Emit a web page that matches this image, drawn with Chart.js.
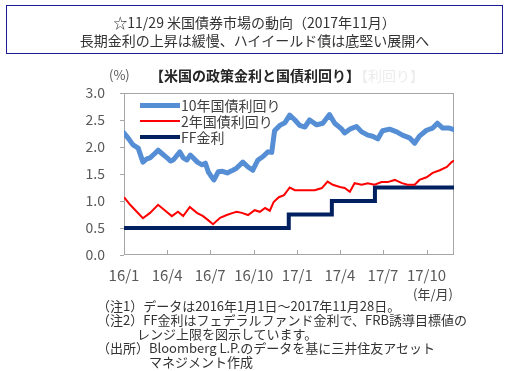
<!DOCTYPE html>
<html><head><meta charset="utf-8">
<script src="https://cdn.jsdelivr.net/npm/chart.js@4/dist/chart.umd.min.js"></script>
<style>
body{margin:0;background:#fff;font-family:"Noto Sans CJK JP","Noto Sans",sans-serif;}
#wrap{position:relative;width:507px;height:371px;overflow:hidden;background:#fff}
.t{position:absolute;white-space:nowrap;color:#333;font-size:14px;line-height:18px}
.sw{position:absolute}
</style></head>
<body><div id="wrap">
<canvas id="c" width="507" height="371" style="position:absolute;left:0;top:0"></canvas>
<div class="t" style="left:6px;top:5px;width:497px;height:49px;border:1.5px solid #1c1c94;box-sizing:border-box;text-align:center;padding-top:7px;color:#333">☆11/29 米国債券市場の動向（2017年11月）<br>長期金利の上昇は緩慢、ハイイールド債は底堅い展開へ</div>
<div class="t" style="left:109px;top:66px;color:#595959;font-size:13px">(%)</div>
<div class="t" style="left:150px;top:66px;font-weight:bold;color:#262626">【米国の政策金利と国債利回り】</div>
<div class="t" style="left:354px;top:66px;color:#ececec">【利回り】</div>
<div class="sw" style="left:140px;top:103px;width:40px;height:5px;background:#558ed5"></div>
<div class="t" style="left:181px;top:96px;color:#404040">10年国債利回り</div>
<div class="sw" style="left:140px;top:120px;width:40px;height:2px;background:#ff0000"></div>
<div class="t" style="left:181px;top:112px;color:#404040">2年国債利回り</div>
<div class="sw" style="left:140px;top:135px;width:40px;height:4px;background:#002060"></div>
<div class="t" style="left:181px;top:128px;color:#404040">FF金利</div>
<div class="t" style="left:413px;top:285px;color:#404040;font-size:13px">(年/月)</div>
<div class="t" style="left:97px;top:299px;font-size:13px;line-height:14px;color:#333">（注1）データは2016年1月1日～2017年11月28日。<br>（注2）FF金利はフェデラルファンド金利で、FRB誘導目標値の<br><span style="padding-left:40px">レンジ上限を図示しています。</span><br>（出所）Bloomberg L.P.のデータを基に三井住友アセット<br><span style="padding-left:52px">マネジメント作成</span></div>
</div>
<script>
// ---- data ----
const dates10y = ["2016-01-01","2016-01-11","2016-01-20","2016-01-31","2016-02-10","2016-02-18","2016-02-25","2016-03-06","2016-03-13","2016-03-21","2016-04-01","2016-04-08","2016-04-14","2016-04-28","2016-05-05","2016-05-13","2016-05-20","2016-05-26","2016-06-04","2016-06-14","2016-06-21","2016-06-27","2016-07-03","2016-07-09","2016-07-18","2016-07-27","2016-08-06","2016-08-13","2016-08-18","2016-08-26","2016-09-08","2016-09-19","2016-09-29","2016-10-10","2016-10-20","2016-10-31","2016-11-08","2016-11-14","2016-11-25","2016-12-06","2016-12-16","2016-12-27","2017-01-06","2017-01-17","2017-01-27","2017-02-11","2017-02-24","2017-03-10","2017-03-21","2017-04-05","2017-04-11","2017-04-22","2017-05-06","2017-05-17","2017-05-30","2017-06-09","2017-06-20","2017-06-30","2017-07-15","2017-07-30","2017-08-11","2017-08-26","2017-09-06","2017-09-16","2017-10-01","2017-10-14","2017-10-24","2017-11-04","2017-11-18","2017-11-28"];
const yield10y = [2.26,2.15,2.04,1.98,1.72,1.78,1.80,1.88,1.94,1.88,1.80,1.74,1.76,1.91,1.80,1.76,1.85,1.80,1.72,1.67,1.70,1.54,1.46,1.39,1.54,1.55,1.52,1.55,1.57,1.61,1.72,1.63,1.57,1.76,1.82,1.91,1.90,2.30,2.40,2.45,2.59,2.50,2.40,2.37,2.50,2.41,2.44,2.60,2.44,2.33,2.26,2.33,2.38,2.28,2.22,2.20,2.15,2.30,2.33,2.28,2.22,2.17,2.07,2.20,2.31,2.35,2.44,2.35,2.35,2.32];
const dates2y = ["2016-01-01","2016-01-14","2016-01-28","2016-02-10","2016-02-25","2016-03-13","2016-03-27","2016-04-11","2016-04-24","2016-05-05","2016-05-19","2016-06-03","2016-06-16","2016-06-26","2016-07-07","2016-07-22","2016-08-05","2016-08-18","2016-08-26","2016-09-06","2016-09-19","2016-10-03","2016-10-14","2016-10-25","2016-11-04","2016-11-12","2016-11-23","2016-12-04","2016-12-16","2016-12-27","2017-01-11","2017-01-23","2017-02-07","2017-02-22","2017-03-06","2017-03-17","2017-04-01","2017-04-11","2017-04-22","2017-05-02","2017-05-17","2017-05-30","2017-06-13","2017-06-28","2017-07-11","2017-07-26","2017-08-10","2017-08-22","2017-09-06","2017-09-16","2017-10-01","2017-10-14","2017-10-29","2017-11-13","2017-11-23","2017-11-28"];
const yield2y = [1.07,0.93,0.80,0.68,0.78,0.93,0.83,0.72,0.80,0.72,0.89,0.78,0.72,0.65,0.57,0.69,0.74,0.78,0.80,0.78,0.74,0.83,0.80,0.87,0.82,0.98,1.07,1.11,1.25,1.20,1.20,1.20,1.20,1.24,1.36,1.30,1.26,1.24,1.17,1.33,1.30,1.33,1.30,1.35,1.35,1.39,1.33,1.30,1.30,1.39,1.44,1.52,1.57,1.63,1.72,1.75];
const datesFF = ["2016-01-01","2016-12-14","2017-03-15","2017-06-14","2017-11-28"];
const rateFF = [0.50,0.75,1.00,1.25,1.25];
const xTickDates = ["2016-01-01","2016-04-01","2016-07-01","2016-10-01","2017-01-01","2017-04-01","2017-07-01","2017-10-01"];
const xTickLabels = ["16/1","16/4","16/7","16/10","17/1","17/4","17/7","17/10"];
const seriesNames = ["10年国債利回り","2年国債利回り","FF金利"];

// ---- build ----
const T0 = Date.parse("2016-01-01");
const day = d => (Date.parse(d) - T0) / 86400000;
const pts = (ds, vs) => ds.map((d, i) => ({x: day(d), y: vs[i]}));
const xTickDays = xTickDates.map(day);
const xMax = day("2017-11-28");

const frame = {
  id: 'frame',
  beforeDatasetsDraw(chart) {
    const {ctx, chartArea: a, scales: {x}} = chart;
    ctx.save();
    ctx.strokeStyle = '#a6a6a6';
    ctx.lineWidth = 1;
    ctx.strokeRect(Math.round(a.left) + 0.5, Math.round(a.top) + 0.5, Math.round(a.right - a.left) - 1, Math.round(a.bottom - a.top) - 1);
    xTickDays.slice(1).forEach(d => {
      const px = Math.round(x.getPixelForValue(d)) + 0.5;
      ctx.beginPath(); ctx.moveTo(px, a.bottom); ctx.lineTo(px, a.bottom - 5); ctx.stroke();
    });
    ctx.restore();
  }
};

new Chart(document.getElementById('c'), {
  type: 'line',
  data: {
    datasets: [
      {label: seriesNames[0], data: pts(dates10y, yield10y), borderColor: '#558ed5', borderWidth: 5, pointRadius: 0, tension: 0, borderJoinStyle: 'round', borderCapStyle: 'round'},
      {label: seriesNames[1], data: pts(dates2y, yield2y), borderColor: '#ff0000', borderWidth: 2, pointRadius: 0, tension: 0},
      {label: seriesNames[2], data: pts(datesFF, rateFF), borderColor: '#002060', borderWidth: 4, pointRadius: 0, stepped: true}
    ]
  },
  options: {
    responsive: false, animation: false, devicePixelRatio: 1,
    layout: {padding: {top: 93, right: 53, left: 0, bottom: 0}},
    plugins: {legend: {display: false}, tooltip: {enabled: false}},
    scales: {
      x: {
        type: 'linear', min: 0, max: xMax,
        afterFit: s => { s.height = 116; },
        afterBuildTicks: s => { s.ticks = xTickDays.map(v => ({value: v})); },
        ticks: {autoSkip: false, maxRotation: 0, padding: 3, color: '#595959', font: {size: 15, family: '"Noto Sans CJK JP"'},
          callback: (v) => { const i = xTickDays.indexOf(v); return i >= 0 ? xTickLabels[i] : ''; }},
        grid: {display: false}, border: {display: false}
      },
      y: {
        min: 0, max: 3,
        afterFit: s => { s.width = 124; },
        ticks: {stepSize: 0.5, padding: 15, color: '#595959', font: {size: 14, family: '"Noto Sans CJK JP"'}, callback: v => Number(v).toFixed(1)},
        grid: {drawOnChartArea: false, drawTicks: true, tickLength: 4, color: '#a6a6a6'}, border: {display: false}
      }
    }
  },
  plugins: [frame]
});
</script>
</body></html>
